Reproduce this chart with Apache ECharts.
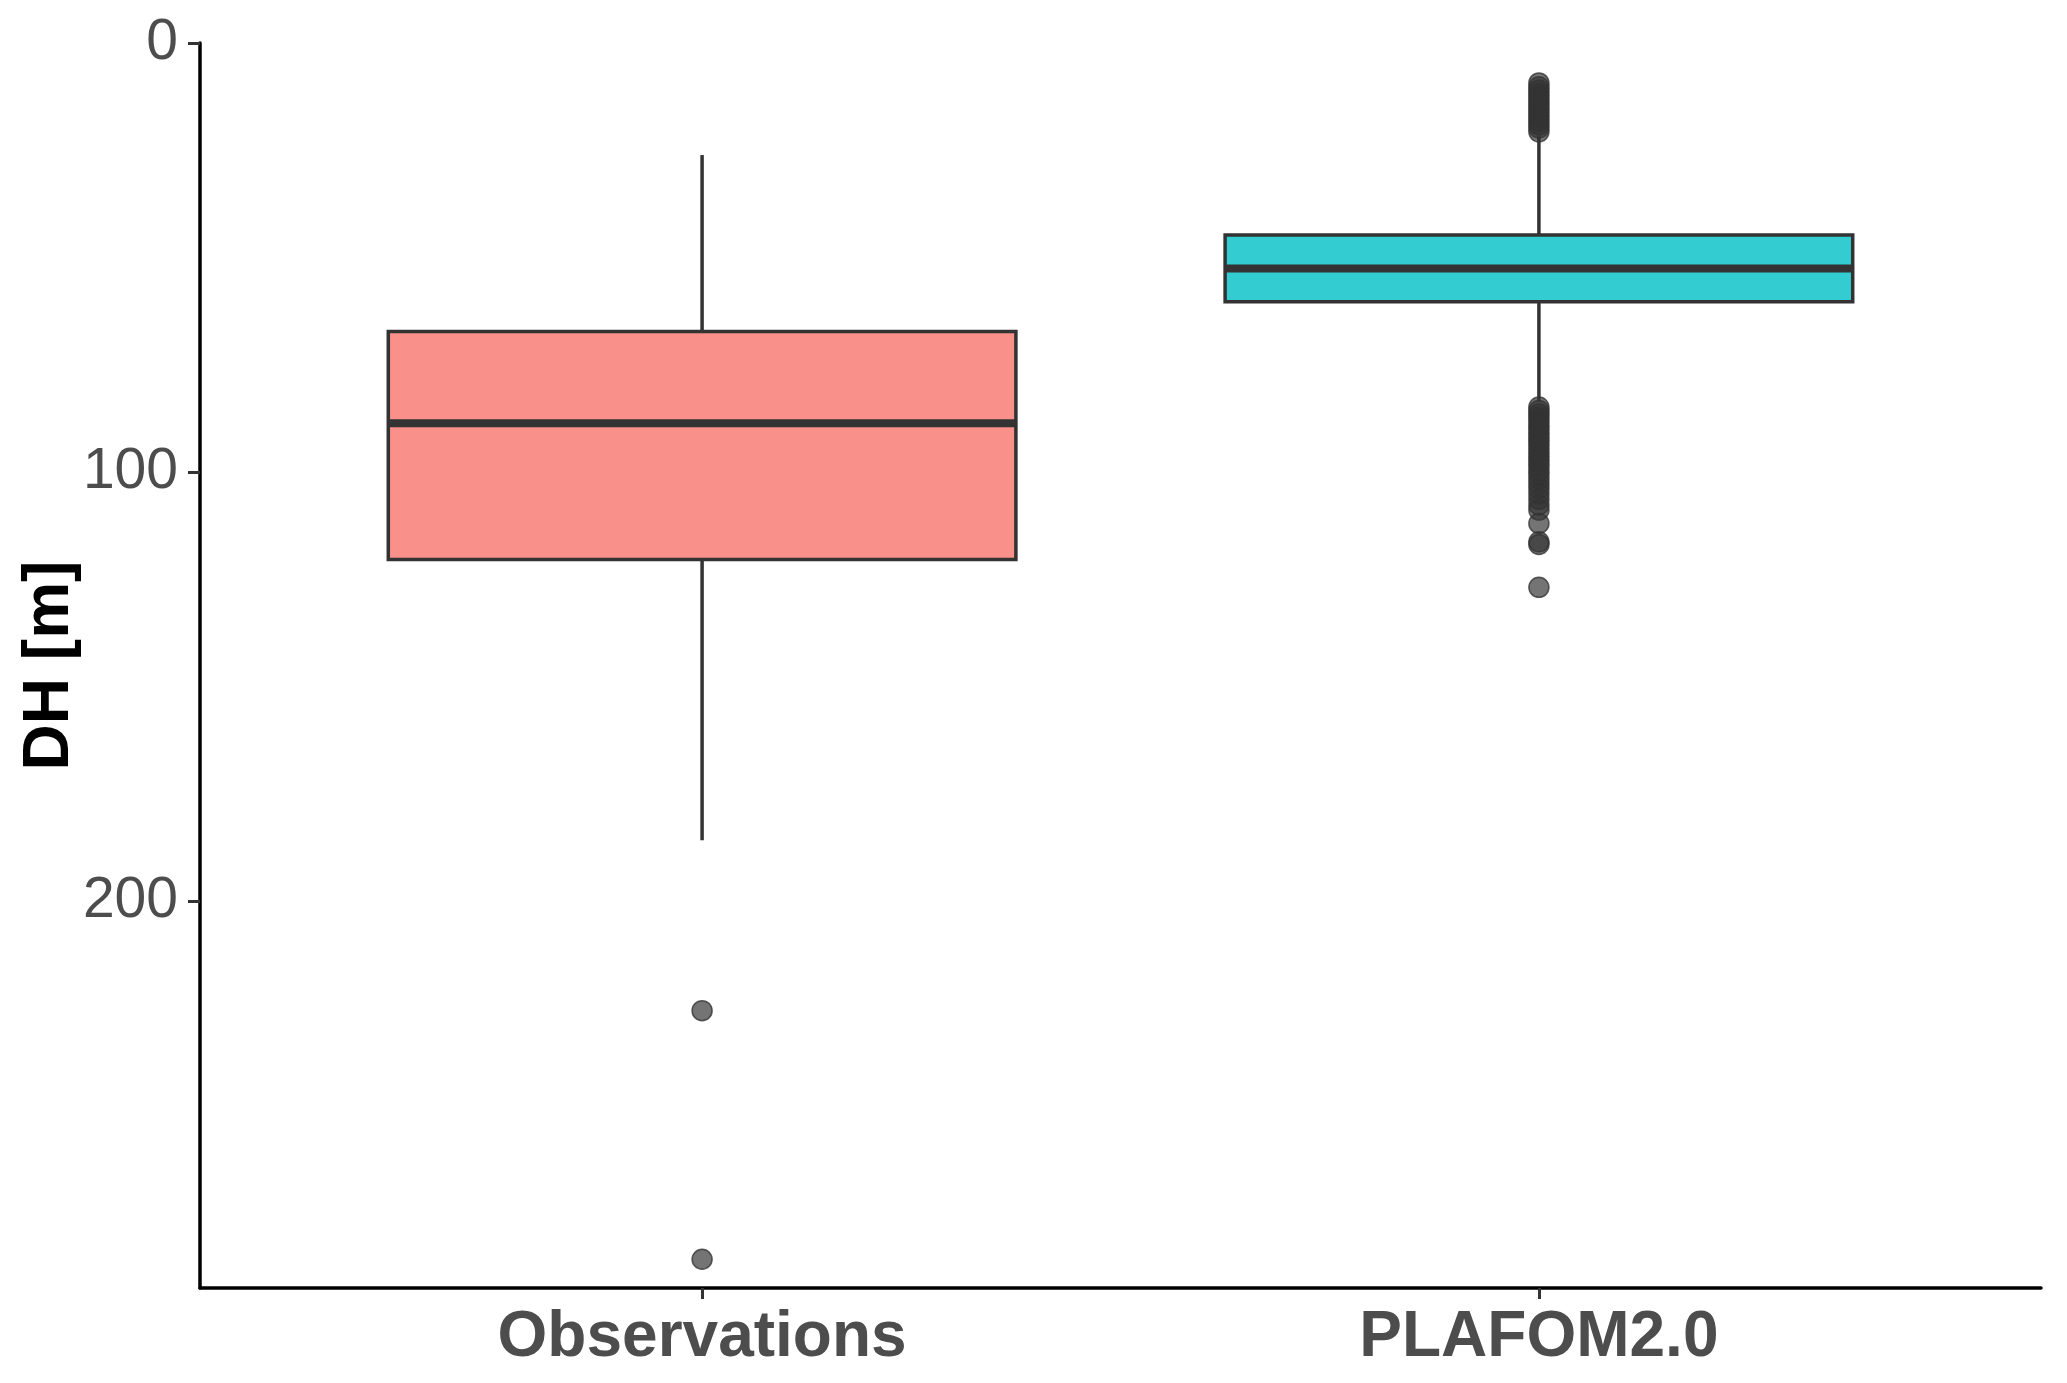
<!DOCTYPE html>
<html>
<head>
<meta charset="utf-8">
<script src="https://cdn.jsdelivr.net/npm/echarts@6/dist/echarts.min.js"></script>
<style>
  html, body { margin: 0; padding: 0; background: #fff; }
  #chart { width: 2067px; height: 1383px; }
</style>
</head>
<body>
<div id="chart"></div>
<script>
// categories and box statistics (DH in metres)
const categories = ['Observations', 'PLAFOM2.0']
const whiskerLow = [26.1, 21.5]
const q1 = [67.2, 44.7]
const median = [88.6, 52.5]
const q3 = [120.3, 60.3]
const whiskerHigh = [185.7, 83.5]
const boxColors = ['rgba(248,118,109,0.8)', 'rgba(0,191,196,0.8)']

// outliers
const obsOutliers = [225.4, 283.3]
const plafomOutliers = [
  9.3, 10.2, 11.0, 11.8, 12.6, 13.4, 14.2, 15.0, 15.8, 16.6, 17.4, 18.2, 19.0, 19.8, 20.7,
  84.8, 85.6, 86.4, 87.2, 88.0, 88.9, 89.7, 90.6, 91.4, 92.3, 93.1, 94.0, 95.0, 95.9,
  96.8, 97.7, 98.6, 99.6, 100.5, 101.6, 102.7, 103.8, 105.0, 106.3, 107.6, 108.8,
  111.9, 116.2, 116.8, 126.8
]
const yTicks = [0, 100, 200]

const boxData = categories.map((c, i) => [i, whiskerLow[i], q1[i], median[i], q3[i], whiskerHigh[i]])
const outlierData = obsOutliers.map(v => [0, v]).concat(plafomOutliers.map(v => [1, v]))

const chart = echarts.init(document.getElementById('chart'))

function renderBox(params, api) {
  const x = api.value(0)
  const pLow = api.coord([x, api.value(1)])
  const pQ1 = api.coord([x, api.value(2)])
  const pMed = api.coord([x, api.value(3)])
  const pQ3 = api.coord([x, api.value(4)])
  const pHigh = api.coord([x, api.value(5)])
  const halfW = api.size([0.75, 0])[0] / 2
  const lineStyle = { stroke: '#333333', lineWidth: 3.5 }
  return {
    type: 'group',
    children: [
      { type: 'line', shape: { x1: pLow[0], y1: pLow[1], x2: pQ1[0], y2: pQ1[1] }, style: lineStyle },
      { type: 'line', shape: { x1: pQ3[0], y1: pQ3[1], x2: pHigh[0], y2: pHigh[1] }, style: lineStyle },
      {
        type: 'rect',
        shape: { x: pQ1[0] - halfW, y: Math.min(pQ1[1], pQ3[1]), width: halfW * 2, height: Math.abs(pQ3[1] - pQ1[1]) },
        style: { fill: boxColors[params.dataIndex], stroke: '#333333', lineWidth: 3.5 }
      },
      { type: 'line', shape: { x1: pMed[0] - halfW, y1: pMed[1], x2: pMed[0] + halfW, y2: pMed[1] }, style: { stroke: '#333333', lineWidth: 8 } }
    ]
  }
}

chart.setOption({
  backgroundColor: '#ffffff',
  animation: false,
  grid: { left: 200, right: 26, top: 43, bottom: 95 },
  xAxis: {
    type: 'value',
    min: -0.6,
    max: 1.6,
    splitLine: { show: false },
    axisLine: { onZero: false, lineStyle: { color: '#000000', width: 3.5 } },
    axisTick: { customValues: [0, 1], length: 11, lineStyle: { color: '#333333', width: 3 } },
    axisLabel: {
      customValues: [0, 1],
      formatter: v => categories[Math.round(v)],
      margin: 18,
      fontFamily: 'Liberation Sans',
      fontWeight: 'bold',
      fontSize: 64,
      color: '#4d4d4d'
    }
  },
  yAxis: {
    type: 'value',
    inverse: true,
    min: 0,
    max: 290,
    name: 'DH [m]',
    nameLocation: 'middle',
    nameGap: 118,
    nameMoveOverlap: false,
    nameTextStyle: { fontFamily: 'Liberation Sans', fontWeight: 'bold', fontSize: 64, color: '#000000' },
    splitLine: { show: false },
    axisLine: { show: true, onZero: false, lineStyle: { color: '#000000', width: 3.5 } },
    axisTick: { show: true, customValues: yTicks, length: 12, lineStyle: { color: '#333333', width: 3 } },
    axisLabel: {
      customValues: yTicks,
      margin: 22,
      fontFamily: 'Liberation Sans',
      fontSize: 57,
      color: '#4d4d4d'
    }
  },
  series: [
    {
      type: 'custom',
      renderItem: renderBox,
      data: boxData,
      encode: { x: 0, y: [1, 2, 3, 4, 5] },
      z: 2
    },
    {
      type: 'scatter',
      data: outlierData,
      symbolSize: 20,
      itemStyle: { color: 'rgba(51,51,51,0.85)', borderColor: '#333333', borderWidth: 1.5 },
      z: 3
    }
  ]
})
</script>
</body>
</html>
